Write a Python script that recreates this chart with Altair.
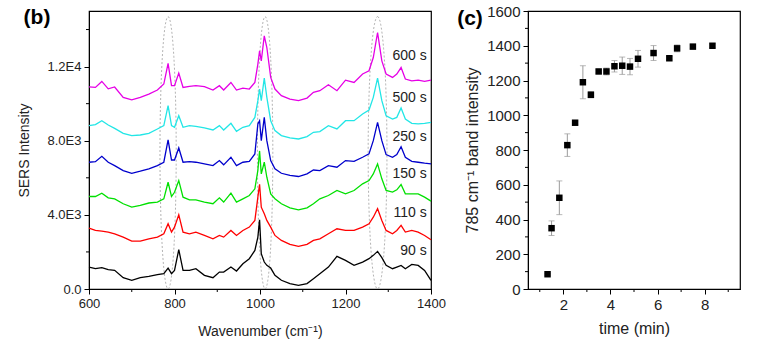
import altair as alt
import pandas as pd
import numpy as np

# ---------------- panel (b): SERS spectra ----------------
wn = [600, 615, 630, 645, 660, 680, 700, 720, 740, 760,
      775, 785, 793, 800, 810, 820, 835, 850, 870, 890,
      905, 915, 932, 945, 960, 975, 988, 995, 999, 1003,
      1010, 1016, 1025, 1035, 1050, 1070, 1090, 1110, 1125, 1140,
      1160, 1180, 1200, 1220, 1240, 1255, 1265, 1275, 1285, 1295,
      1310, 1320, 1330, 1340, 1355, 1370, 1385, 1400]

s600 = [10910, 10880, 11200, 10800, 10900, 10340, 10210, 10340, 10520, 10735,
        11060, 12170, 10970, 10970, 11650, 10875, 10930, 10970, 10915, 10735,
        10970, 10735, 11145, 10735, 10840, 10790, 11145, 12135, 12850, 12310,
        13660, 13030, 11415, 10790, 10430, 10250, 10160, 10300, 10610, 10700,
        11020, 10700, 11270, 11145, 11600, 11775, 12490, 13840, 12310, 11600,
        11415, 11600, 11950, 11330, 11235, 11270, 11200, 11270]
s500 = [8815, 8870, 9080, 8850, 8670, 8400, 8275, 8310, 8400, 8635,
        8815, 9890, 8815, 8725, 9350, 8725, 8815, 8780, 8690, 8580,
        8815, 8580, 8940, 8510, 8725, 8815, 9260, 10160, 10790, 10160,
        11380, 10340, 9080, 8545, 8275, 8150, 8095, 8220, 8455, 8490,
        8815, 8635, 9080, 9080, 9440, 9660, 10340, 11380, 10160, 9350,
        9170, 9260, 9765, 9170, 8940, 8905, 8940, 8995]
s250 = [6840, 6870, 7160, 6840, 6660, 6390, 6245, 6355, 6480, 6660,
        6840, 8045, 6960, 6960, 7610, 6840, 6870, 6840, 6750, 6660,
        6930, 6700, 7110, 6660, 6840, 6890, 7290, 8900, 9080, 8005,
        9260, 8005, 6930, 6480, 6245, 6130, 6070, 6210, 6420, 6390,
        6660, 6570, 6930, 6890, 7110, 7290, 8005, 8990, 8005, 7250,
        7110, 7250, 7680, 7110, 6890, 6840, 6790, 6750]
s150 = [4990, 4990, 5170, 4920, 4865, 4600, 4415, 4510, 4640, 4690,
        4865, 5760, 4990, 5220, 5850, 4955, 4810, 4810, 4690, 4600,
        4920, 4690, 5170, 4690, 4865, 5045, 5405, 6400, 7450, 6210,
        6840, 6030, 5135, 4870, 4600, 4380, 4275, 4380, 4600, 4865,
        5045, 5315, 5135, 5315, 5675, 5850, 6210, 6750, 5945, 5315,
        5225, 5350, 5640, 5135, 5135, 5135, 4955, 4740]
s110 = [3285, 3160, 3120, 3070, 2980, 2800, 2585, 2585, 2710, 2800,
        2980, 3520, 3070, 3340, 4000, 3070, 2980, 3070, 2890, 2710,
        2890, 2800, 3160, 2890, 3160, 3340, 3700, 4955, 5650, 4415,
        4060, 3700, 3340, 2890, 2620, 2405, 2300, 2405, 2620, 2710,
        2980, 3250, 3160, 3160, 3340, 3520, 3875, 4330, 3700, 3160,
        2980, 3160, 3430, 3070, 3160, 3070, 2890, 2660]
s90 = [1185, 1095, 1150, 1040, 1005, 610, 470, 610, 680, 770,
       825, 1130, 825, 1005, 2120, 1005, 1005, 1095, 735, 610,
       915, 915, 1185, 970, 1365, 1635, 2080, 2800, 3735, 1900,
       1455, 1275, 1130, 735, 470, 290, 200, 290, 555, 825,
       1185, 1760, 1545, 1275, 1455, 1635, 1815, 2030, 1690, 1275,
       1095, 1185, 1275, 1095, 1330, 1275, 1005, 470]

series_names = ["90 s", "110 s", "150 s", "250 s", "500 s", "600 s"]
series_vals = [s90, s110, s150, s250, s500, s600]
series_colors = ["#000000", "#ff0000", "#00e000", "#0000cc", "#22e6e6", "#e600e6"]
label_y = [2030, 4080, 6230, 8220, 10320, 12580]
label_x = 1390

y_ticks_b = [0, 4000, 8000, 12000]
y_labels_b = ["0.0", "4.0E3", "8.0E3", "1.2E4"]
y_minor_b = [2000, 6000, 10000, 14000]
x_ticks_b = [600, 800, 1000, 1200, 1400]
x_minor_b = [700, 900, 1100, 1300]

# dotted guide ellipses around the 785, 1010 and 1275 cm-1 bands
ell_center = [785, 1012, 1275]
ell_halfwidth = [19, 18, 22]
ell_top = 14700

# ---------------- panel (c): band intensity vs time ----------------
t_min = [1.33, 1.5, 1.83, 2.17, 2.5, 2.83, 3.17, 3.5, 3.83, 4.17, 4.5, 4.83, 5.17, 5.83, 6.5, 6.83, 7.5, 8.33]
band = [85, 350, 525, 828, 957, 1190, 1118, 1252, 1252, 1282, 1285, 1280, 1325, 1358, 1328, 1385, 1395, 1400]
band_err = [5, 42, 97, 65, 10, 95, 18, 10, 20, 33, 50, 47, 48, 43, 10, 20, 10, 12]
x_ticks_c = [2, 4, 6, 8]
x_minor_c = [1, 3, 5, 7, 9]
y_ticks_c = [0, 200, 400, 600, 800, 1000, 1200, 1400, 1600]
y_minor_c = [100, 300, 500, 700, 900, 1100, 1300, 1500]

FONT = "Liberation Sans"
W_B, H = 342, 278
W_C = 212

# ---- build tables ----
rows = []
for name, vals in zip(series_names, series_vals):
    for w, v in zip(wn, vals):
        rows.append({"wn": w, "I": v, "s": name})
spec_df = pd.DataFrame(rows)

lab_df = pd.DataFrame({"s": series_names, "y": label_y, "x": [label_x] * len(series_names)})

ell_rows = []
theta = np.linspace(0, 2 * np.pi, 73)
for k, (c, a) in enumerate(zip(ell_center, ell_halfwidth)):
    for i, th in enumerate(theta):
        ell_rows.append({"e": k, "i": i,
                         "x": c + a * np.sin(th),
                         "y": ell_top / 2 + ell_top / 2 * np.cos(th)})
ell_df = pd.DataFrame(ell_rows)

xs_b = alt.Scale(domain=[600, 1400], nice=False, zero=False)
ys_b = alt.Scale(domain=[0, 15000], nice=False)

label_expr_b = " : ".join(
    [f"datum.value == {v} ? '{l}'" for v, l in zip(y_ticks_b, y_labels_b)]) + " : ''"

ax_xb = alt.Axis(values=x_ticks_b, title="Wavenumber (cm⁻¹)", format="d", labelFlush=False,
                 labelFontSize=13, titleFontSize=14, labelPadding=3, titlePadding=14)
ax_yb = alt.Axis(values=y_ticks_b, labelExpr=label_expr_b, title="SERS Intensity", labelFlush=False,
                 labelFontSize=13, titleFontSize=14, labelPadding=3, titlePadding=16)


def XB(f):
    return alt.X(f, scale=xs_b, axis=ax_xb, title="Wavenumber (cm⁻¹)")


def YB(f):
    return alt.Y(f, scale=ys_b, axis=ax_yb, title="SERS Intensity")


ellipses = alt.Chart(ell_df).mark_line(
    color="#a0a0a0", strokeWidth=0.8, strokeDash=[2, 2], clip=True
).encode(x=XB("x:Q"), y=YB("y:Q"), detail="e:N", order="i:Q")

spectra = alt.Chart(spec_df).mark_line(strokeWidth=1.3).encode(
    x=XB("wn:Q"), y=YB("I:Q"),
    color=alt.Color("s:N", scale=alt.Scale(domain=series_names, range=series_colors), legend=None),
)

labels_b = alt.Chart(lab_df).mark_text(
    align="right", baseline="middle", font=FONT, fontSize=14, color="#222"
).encode(x=XB("x:Q"), y=YB("y:Q"), text="s:N")

minor_xb = alt.Chart(pd.DataFrame({"v": x_minor_b})).mark_rule(color="black").encode(
    x=XB("v:Q"), y=alt.value(H), y2=alt.value(H + 3))
minor_yb = alt.Chart(pd.DataFrame({"v": y_minor_b})).mark_rule(color="black").encode(
    y=YB("v:Q"), x=alt.value(0), x2=alt.value(-3))

tag_b = alt.Chart(pd.DataFrame({"t": ["(b)"]})).mark_text(
    font=FONT, fontSize=21, fontWeight="bold", align="center", baseline="middle", color="black"
).encode(x=alt.value(-52), y=alt.value(7), text="t:N")

panel_b = alt.layer(ellipses, spectra, labels_b, minor_xb, minor_yb, tag_b).properties(
    width=W_B, height=H)

# ---- panel c ----
c_df = pd.DataFrame({"t": t_min, "v": band,
                     "lo": [b - e for b, e in zip(band, band_err)],
                     "hi": [b + e for b, e in zip(band, band_err)]})
xs_c = alt.Scale(domain=[0.5, 9.5], nice=False, zero=False)
ys_c = alt.Scale(domain=[0, 1600], nice=False)

ax_xc = alt.Axis(values=x_ticks_c, title="time (min)", format="d", labelFlush=False,
                 labelFontSize=15, titleFontSize=16, labelPadding=3, titlePadding=8)
ax_yc = alt.Axis(values=y_ticks_c, title="785 cm⁻¹ band intensity", format="d", labelFlush=False,
                 labelFontSize=15, titleFontSize=16, labelPadding=3, titlePadding=6)


def XC(f):
    return alt.X(f, scale=xs_c, axis=ax_xc, title="time (min)")


def YC(f):
    return alt.Y(f, scale=ys_c, axis=ax_yc, title="785 cm⁻¹ band intensity")


err_rule = alt.Chart(c_df).mark_rule(color="#9a9a9a", strokeWidth=1).encode(
    x=XC("t:Q"), y=YC("lo:Q"), y2="hi:Q")
cap_lo = alt.Chart(c_df).mark_tick(color="#9a9a9a", orient="horizontal", size=6, thickness=1).encode(
    x=XC("t:Q"), y=YC("lo:Q"))
cap_hi = alt.Chart(c_df).mark_tick(color="#9a9a9a", orient="horizontal", size=6, thickness=1).encode(
    x=XC("t:Q"), y=YC("hi:Q"))
pts = alt.Chart(c_df).mark_square(size=42, color="black", opacity=1).encode(
    x=XC("t:Q"), y=YC("v:Q"))
minor_xc = alt.Chart(pd.DataFrame({"v": x_minor_c})).mark_rule(color="black").encode(
    x=XC("v:Q"), y=alt.value(H), y2=alt.value(H + 3))
minor_yc = alt.Chart(pd.DataFrame({"v": y_minor_c})).mark_rule(color="black").encode(
    y=YC("v:Q"), x=alt.value(0), x2=alt.value(-3))
tag_c = alt.Chart(pd.DataFrame({"t": ["(c)"]})).mark_text(
    font=FONT, fontSize=21, fontWeight="bold", align="center", baseline="middle", color="black"
).encode(x=alt.value(-58), y=alt.value(8), text="t:N")

panel_c = alt.layer(err_rule, cap_lo, cap_hi, pts, minor_xc, minor_yc, tag_c).properties(
    width=W_C, height=H)

chart = alt.hconcat(panel_b, panel_c, spacing=9).properties(
    padding={"left": 16, "top": 3, "right": 5, "bottom": 5},
    background="white",
).configure_view(
    stroke="black", strokeWidth=1.2
).configure_axis(
    labelFont=FONT, titleFont=FONT,
    labelColor="#222", titleColor="#222", titleFontWeight="normal",
    domainColor="black", tickColor="black", tickSize=5, grid=False,
)

chart.save("out.html", embed_options={"renderer": "svg", "actions": False})
